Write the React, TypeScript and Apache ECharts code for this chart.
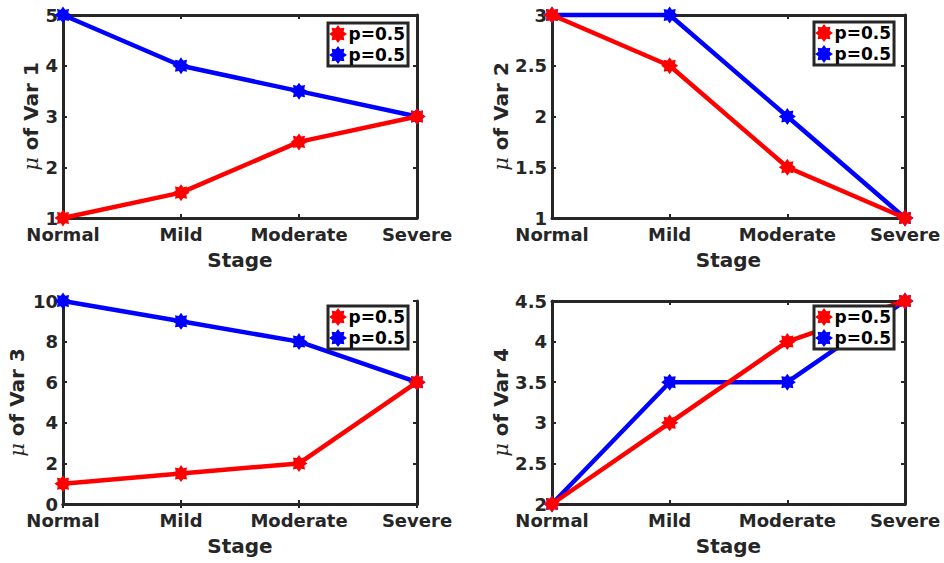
import React, { useEffect, useRef } from "react";
import * as echarts from "echarts";

const categories = ["Normal", "Mild", "Moderate", "Severe"];
const red1 = [1, 1.5, 2.5, 3];
const blue1 = [5, 4, 3.5, 3];
const red2 = [3, 2.5, 1.5, 1];
const blue2 = [3, 3, 2, 1];
const red3 = [1, 1.5, 2, 6];
const blue3 = [10, 9, 8, 6];
const red4 = [2, 3, 4, 4.5];
const blue4 = [2, 3.5, 3.5, 4.5];
const yMins = [1, 1, 0, 2];
const yMaxs = [5, 3, 10, 4.5];
const yIntervals = [1, 0.5, 2, 0.5];
const yNames = ["Var 1", "Var 2", "Var 3", "Var 4"];
const legendLabel = "p=0.5";

function starPath(): string {
  const pts: string[] = [];
  for (let i = 0; i < 16; i++) {
    const a = (i * Math.PI) / 8 - Math.PI / 2;
    const r = i % 2 === 0 ? 10 : 6.8;
    pts.push(`${(10 + r * Math.cos(a)).toFixed(2)} ${(10 + r * Math.sin(a)).toFixed(2)}`);
  }
  return "path://M" + pts.join(" L") + " Z";
}

export default function App() {
  const ref = useRef<HTMLDivElement>(null);
  useEffect(() => {
    if (!ref.current) return;
    const chart = echarts.init(ref.current, null, { renderer: "svg" });
    const FONT = "DejaVu Sans";
    const DARK = "#262626";
    const star = starPath();
    const grids = [
      { left: 63, top: 15, width: 354, height: 203 },
      { left: 552, top: 15, width: 353, height: 203 },
      { left: 63, top: 301, width: 354, height: 203 },
      { left: 552, top: 301, width: 353, height: 203 },
    ];
    const nameGaps = [21, 40, 36, 39];
    const legendPos = [
      { left: 328, top: 23 },
      { left: 814, top: 22 },
      { left: 328, top: 306 },
      { left: 814, top: 306 },
    ];
    const reds = [red1, red2, red3, red4];
    const blues = [blue1, blue2, blue3, blue4];
    const xAxes: any[] = [];
    const yAxes: any[] = [];
    const series: any[] = [];
    const legends: any[] = [];
    const axisLine = { show: true, lineStyle: { color: DARK, width: 3 } };
    const axisTick = { show: true, inside: true, length: 4, lineStyle: { color: DARK, width: 2 } };
    for (let i = 0; i < 4; i++) {
      xAxes.push({
        type: "category",
        gridIndex: i,
        data: categories,
        boundaryGap: false,
        position: "bottom",
        axisLine,
        axisTick,
        axisLabel: {
          color: DARK,
          fontFamily: FONT,
          fontWeight: "bold",
          fontSize: 18,
          margin: 7,
          interval: 0,
        },
        splitLine: { show: false },
        name: "Stage",
        nameLocation: "middle",
        nameGap: 32,
        nameTextStyle: { color: DARK, fontFamily: FONT, fontWeight: "bold", fontSize: 20 },
      });
      xAxes.push({
        type: "category",
        gridIndex: i,
        data: categories,
        boundaryGap: false,
        position: "top",
        axisLine,
        axisTick,
        axisLabel: { show: false },
        splitLine: { show: false },
      });
      yAxes.push({
        type: "value",
        gridIndex: i,
        min: yMins[i],
        max: yMaxs[i],
        interval: yIntervals[i],
        position: "left",
        axisLine,
        axisTick,
        axisLabel: {
          color: DARK,
          fontFamily: FONT,
          fontWeight: "bold",
          fontSize: 18,
          margin: 5,
        },
        splitLine: { show: false },
        name: `{mu|μ}{t| of ${yNames[i]}}`,
        nameLocation: "middle",
        nameGap: nameGaps[i],
        nameTextStyle: {
          color: DARK,
          rich: {
            mu: { fontFamily: "DejaVu Serif", fontStyle: "italic", fontWeight: "normal", fontSize: 21, color: DARK },
            t: { fontFamily: FONT, fontWeight: "bold", fontSize: 20, color: DARK },
          },
        },
      });
      yAxes.push({
        type: "value",
        gridIndex: i,
        min: yMins[i],
        max: yMaxs[i],
        interval: yIntervals[i],
        position: "right",
        axisLine,
        axisTick,
        axisLabel: { show: false },
        splitLine: { show: false },
      });
      const common = {
        type: "line",
        xAxisIndex: i * 2,
        yAxisIndex: i * 2,
        symbol: star,
        symbolSize: 17,
        showAllSymbol: true,
        clip: false,
      };
      series.push({
        ...common,
        name: `b${i}`,
        data: blues[i],
        color: "#0000FF",
        itemStyle: { color: "#0000FF" },
        lineStyle: { width: 4.5, color: "#0000FF" },
        z: 2,
      });
      series.push({
        ...common,
        name: `r${i}`,
        data: reds[i],
        color: "#FF0000",
        itemStyle: { color: "#FF0000" },
        lineStyle: { width: 4.5, color: "#FF0000" },
        z: 3,
      });
      legends.push({
        data: [`r${i}`, `b${i}`],
        left: legendPos[i].left,
        top: legendPos[i].top,
        orient: "vertical",
        icon: star,
        itemWidth: 19,
        itemHeight: 18,
        itemGap: 3,
        padding: [2, 3, 2, 1],
        borderColor: DARK,
        borderWidth: 3,
        backgroundColor: "#ffffff",
        selectedMode: false,
        formatter: () => legendLabel,
        textStyle: { color: "#000000", fontFamily: FONT, fontWeight: "bold", fontSize: 17, padding: [0, 0, 0, -4] },
        z: 10,
      });
    }
    chart.setOption({
      animation: false,
      backgroundColor: "#ffffff",
      grid: grids,
      xAxis: xAxes,
      yAxis: yAxes,
      legend: legends,
      series,
    });
    return () => chart.dispose();
  }, []);
  return <div ref={ref} style={{ width: 944, height: 563, position: "absolute", left: 0, top: 0 }} />;
}
